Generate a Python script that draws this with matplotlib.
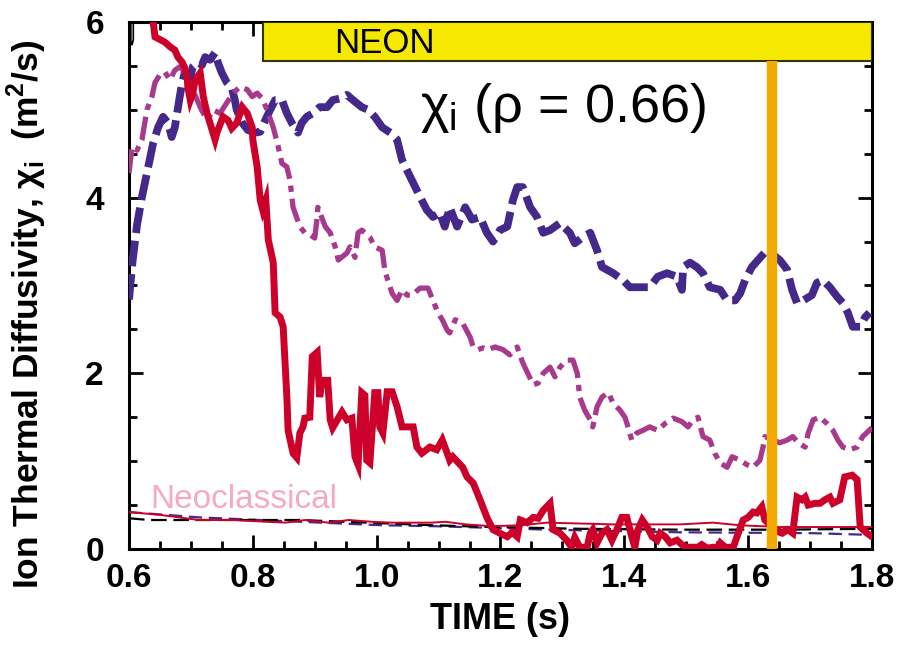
import matplotlib
matplotlib.use("Agg")
import matplotlib.pyplot as plt
from matplotlib.patches import Rectangle
from matplotlib.ticker import MultipleLocator, FormatStrFormatter

plt.rcParams['font.family'] = ['Liberation Sans Narrow', 'Liberation Sans', 'DejaVu Sans']
plt.rcParams['mathtext.fontset'] = 'custom'
plt.rcParams['mathtext.rm'] = 'Liberation Sans'
plt.rcParams['mathtext.bf'] = 'Liberation Sans:bold'

# ---- data (time in s, chi_i in m^2/s) ----
red_t = [0.634, 0.639, 0.642, 0.650, 0.658, 0.666, 0.674, 0.679, 0.686, 0.690, 0.694, 0.695, 0.699, 0.703,
         0.707, 0.715, 0.720, 0.726, 0.739, 0.742, 0.752, 0.760, 0.766, 0.774, 0.783, 0.791, 0.799, 0.800,
         0.807, 0.812, 0.816, 0.821, 0.825, 0.833, 0.836, 0.844, 0.849, 0.855, 0.857, 0.865, 0.871, 0.876,
         0.881, 0.884, 0.892, 0.896, 0.904, 0.908, 0.912, 0.921, 0.925, 0.929, 0.944, 0.952, 0.960, 0.965,
         0.970, 0.976, 0.981, 0.984, 0.989, 0.997, 1.002, 1.005, 1.010, 1.017, 1.025, 1.033, 1.041, 1.049,
         1.059, 1.065, 1.073, 1.086, 1.097, 1.106, 1.114, 1.118, 1.123, 1.131, 1.139, 1.146, 1.156, 1.167,
         1.178, 1.188, 1.199, 1.211, 1.219, 1.227, 1.232, 1.243, 1.253, 1.261, 1.269, 1.280, 1.285, 1.296,
         1.307, 1.315, 1.320, 1.328, 1.340, 1.345, 1.349, 1.356, 1.364, 1.372, 1.380, 1.388, 1.396, 1.404,
         1.412, 1.417, 1.422, 1.429, 1.437, 1.445, 1.453, 1.458, 1.466, 1.474, 1.485, 1.493, 1.501, 1.511,
         1.519, 1.525, 1.534, 1.543, 1.551, 1.555, 1.563, 1.576, 1.584, 1.592, 1.600, 1.608, 1.614, 1.622,
         1.627, 1.639, 1.647, 1.651, 1.655, 1.664, 1.672, 1.679, 1.687, 1.692, 1.697, 1.708, 1.716, 1.724,
         1.732, 1.737, 1.748, 1.756, 1.768, 1.776, 1.781, 1.792, 1.800]
red_chi = [6.30, 6.00, 5.83, 5.80, 5.77, 5.72, 5.68, 5.60, 5.54, 5.48, 5.37, 5.26, 5.11, 5.19,
           5.34, 5.42, 5.15, 4.96, 4.66, 4.74, 4.92, 4.88, 4.79, 4.85, 5.03, 4.96, 4.80, 4.66,
           4.35, 3.97, 3.86, 3.97, 3.52, 3.26, 2.69, 2.64, 2.53, 1.73, 1.35, 1.09, 1.04, 1.32,
           1.39, 1.49, 1.50, 2.19, 2.24, 1.73, 1.92, 1.92, 1.47, 1.38, 1.56, 1.47, 1.49, 1.05,
           0.96, 1.78, 1.75, 1.01, 0.98, 1.78, 1.78, 1.39, 1.32, 1.79, 1.79, 1.62, 1.39, 1.39,
           1.39, 1.16, 1.09, 1.16, 1.13, 1.24, 1.09, 1.01, 1.05, 0.99, 0.93, 0.82, 0.75, 0.56,
           0.36, 0.22, 0.18, 0.14, 0.19, 0.14, 0.33, 0.30, 0.36, 0.35, 0.44, 0.52, 0.22, 0.18,
           0.10, 0.02, 0.13, 0.02, 0.02, 0.18, 0.22, 0.07, 0.18, 0.22, 0.10, 0.22, 0.36, 0.36,
           0.14, 0.02, 0.22, 0.33, 0.25, 0.14, 0.10, 0.18, 0.14, 0.07, 0.10, 0.05, 0.02, 0.02,
           0.02, 0.05, 0.01, 0.02, 0.02, 0.07, 0.02, 0.02, 0.18, 0.33, 0.36, 0.42, 0.41, 0.48,
           0.33, 0.25, 0.22, 0.19, 0.18, 0.22, 0.18, 0.59, 0.56, 0.59, 0.50, 0.52, 0.52, 0.56,
           0.59, 0.52, 0.56, 0.82, 0.84, 0.79, 0.25, 0.18, 0.14]

purple_t = [0.600, 0.605, 0.613, 0.621, 0.629, 0.637, 0.642, 0.650, 0.658, 0.666, 0.674, 0.682, 0.694,
            0.703, 0.715, 0.726, 0.736, 0.747, 0.758, 0.768, 0.779, 0.791, 0.799, 0.807, 0.815, 0.823,
            0.833, 0.841, 0.847, 0.855, 0.860, 0.865, 0.876, 0.884, 0.892, 0.900, 0.904, 0.905, 0.917,
            0.925, 0.933, 0.938, 0.952, 0.957, 0.965, 0.970, 0.976, 0.989, 0.997, 1.009, 1.013, 1.018,
            1.025, 1.033, 1.041, 1.049, 1.057, 1.070, 1.083, 1.091, 1.099, 1.106, 1.114, 1.118, 1.127,
            1.139, 1.151, 1.156, 1.164, 1.172, 1.180, 1.191, 1.204, 1.215, 1.227, 1.236, 1.244, 1.253,
            1.261, 1.269, 1.280, 1.288, 1.296, 1.307, 1.317, 1.324, 1.328, 1.336, 1.345, 1.349, 1.356,
            1.364, 1.374, 1.382, 1.393, 1.401, 1.406, 1.412, 1.420, 1.430, 1.441, 1.454, 1.466, 1.479,
            1.493, 1.503, 1.511, 1.519, 1.527, 1.538, 1.546, 1.555, 1.566, 1.574, 1.587, 1.598, 1.608,
            1.619, 1.624, 1.627, 1.640, 1.651, 1.663, 1.672, 1.681, 1.692, 1.697, 1.705, 1.716, 1.727,
            1.737, 1.745, 1.753, 1.764, 1.776, 1.785, 1.800]
purple_chi = [4.28, 4.58, 4.54, 4.66, 5.00, 5.15, 5.31, 5.40, 5.43, 5.34, 5.45, 5.49, 5.40,
              5.23, 5.03, 4.88, 5.00, 4.96, 5.08, 5.19, 5.26, 5.23, 5.15, 5.19, 5.13, 5.00,
              4.80, 4.58, 4.39, 4.35, 4.20, 3.89, 3.67, 3.60, 3.58, 3.54, 3.78, 3.89, 3.67,
              3.60, 3.44, 3.29, 3.37, 3.44, 3.32, 3.60, 3.63, 3.55, 3.44, 3.40, 3.18, 3.06,
              2.91, 2.83, 2.95, 2.89, 2.89, 2.97, 2.97, 2.83, 2.69, 2.61, 2.49, 2.46, 2.61,
              2.57, 2.41, 2.30, 2.27, 2.29, 2.27, 2.30, 2.27, 2.21, 2.30, 2.12, 2.00, 1.87,
              1.89, 2.00, 2.07, 1.96, 2.07, 2.15, 2.15, 2.00, 1.73, 1.58, 1.47, 1.39, 1.62,
              1.73, 1.78, 1.66, 1.58, 1.50, 1.39, 1.24, 1.32, 1.35, 1.39, 1.35, 1.43, 1.49,
              1.45, 1.39, 1.47, 1.50, 1.28, 1.24, 1.09, 0.98, 0.93, 1.05, 1.01, 0.96, 0.93,
              1.01, 1.16, 1.28, 1.24, 1.21, 1.24, 1.28, 1.21, 1.16, 1.32, 1.47, 1.50, 1.43,
              1.35, 1.24, 1.16, 1.13, 1.16, 1.28, 1.38]

indigo_t = [0.600, 0.606, 0.613, 0.621, 0.629, 0.639, 0.647, 0.655, 0.663, 0.669, 0.674, 0.682, 0.686,
            0.690, 0.699, 0.703, 0.711, 0.718, 0.723, 0.731, 0.739, 0.744, 0.750, 0.758, 0.766, 0.771,
            0.774, 0.783, 0.792, 0.804, 0.812, 0.820, 0.828, 0.836, 0.847, 0.855, 0.863, 0.873, 0.879,
            0.887, 0.897, 0.908, 0.920, 0.929, 0.941, 0.952, 0.962, 0.976, 0.986, 0.997, 1.009, 1.022,
            1.033, 1.041, 1.054, 1.070, 1.081, 1.091, 1.102, 1.110, 1.118, 1.130, 1.143, 1.154, 1.167,
            1.178, 1.188, 1.199, 1.211, 1.220, 1.227, 1.236, 1.248, 1.259, 1.269, 1.280, 1.296, 1.312,
            1.320, 1.333, 1.345, 1.356, 1.364, 1.382, 1.398, 1.409, 1.425, 1.441, 1.454, 1.469, 1.485,
            1.493, 1.495, 1.506, 1.517, 1.527, 1.538, 1.555, 1.566, 1.579, 1.587, 1.595, 1.606, 1.616,
            1.630, 1.640, 1.651, 1.663, 1.671, 1.679, 1.689, 1.703, 1.711, 1.721, 1.732, 1.744, 1.753,
            1.761, 1.769, 1.781, 1.789, 1.796]
indigo_chi = [2.84, 3.29, 3.69, 4.01, 4.28, 4.62, 4.80, 4.92, 4.85, 4.69, 4.80, 5.15, 5.31,
              5.42, 5.37, 5.49, 5.54, 5.51, 5.60, 5.57, 5.65, 5.53, 5.42, 5.31, 5.25, 5.11,
              5.00, 4.85, 4.77, 4.74, 4.75, 4.88, 5.00, 5.11, 5.11, 4.96, 4.85, 4.74, 4.85,
              4.92, 4.96, 5.03, 5.03, 5.11, 5.13, 5.17, 5.11, 5.03, 5.00, 4.92, 4.80, 4.74,
              4.66, 4.43, 4.24, 4.01, 3.86, 3.78, 3.83, 3.67, 3.89, 3.67, 3.89, 3.75, 3.78,
              3.60, 3.50, 3.63, 3.67, 3.97, 4.12, 4.12, 3.89, 3.78, 3.60, 3.63, 3.71, 3.60,
              3.48, 3.55, 3.60, 3.40, 3.21, 3.14, 3.06, 2.98, 2.98, 2.98, 3.10, 3.14, 3.10,
              2.95, 3.21, 3.26, 3.21, 3.14, 2.98, 2.95, 2.83, 2.83, 2.91, 3.06, 3.21, 3.29,
              3.40, 3.35, 3.29, 3.18, 2.95, 2.80, 2.83, 2.89, 3.03, 3.06, 2.98, 2.87, 2.80,
              2.69, 2.53, 2.53, 2.64, 2.69]

neo_red_t = [0.600, 0.648, 0.713, 0.766, 0.821, 0.853, 0.885, 0.922, 0.955, 0.992, 1.024, 1.089, 1.111,
             1.144, 1.186, 1.232, 1.275, 1.382, 1.490, 1.543, 1.587, 1.651, 1.705, 1.760, 1.800]
neo_red_chi = [0.42, 0.39, 0.33, 0.33, 0.31, 0.30, 0.33, 0.30, 0.33, 0.31, 0.30, 0.30, 0.31,
               0.28, 0.26, 0.27, 0.30, 0.28, 0.28, 0.30, 0.27, 0.25, 0.25, 0.25, 0.25]
neo_black_t = [0.600, 0.632, 0.821, 0.876, 0.984, 1.091, 1.188, 1.328, 1.490, 1.651, 1.800]
neo_black_chi = [0.35, 0.33, 0.33, 0.33, 0.30, 0.27, 0.25, 0.23, 0.22, 0.22, 0.23]
neo_indigo_t = [0.600, 0.713, 0.876, 1.010, 1.091, 1.188, 1.275, 1.490, 1.705, 1.800]
neo_indigo_chi = [0.42, 0.36, 0.31, 0.27, 0.26, 0.24, 0.22, 0.19, 0.18, 0.16]

black_hook_t = [0.603, 0.603, 0.605, 0.607, 0.607]
black_hook_chi = [6.30, 5.78, 5.74, 5.80, 6.30]

neon_start, neon_end = 0.816, 1.80
neon_bottom = 5.56
marker_time = 1.638

x_ticks = [0.6, 0.8, 1.0, 1.2, 1.4, 1.6, 1.8]
y_ticks = [0, 2, 4, 6]

RED = '#CC0029'
PURPLE = '#A83A8E'
INDIGO = '#45298A'
ORANGE = '#F2A900'
YELLOW = '#F5E900'
PINK = '#F6A9C3'

fig = plt.figure(figsize=(8.97, 6.5), dpi=100)
ax = fig.add_axes([0.1438, 0.1554, 0.8283, 0.8108])

# neoclassical (thin)
ax.plot(neo_indigo_t, neo_indigo_chi, color=INDIGO, lw=1.6, ls=(0, (6, 3)), zorder=3)
ax.plot(neo_black_t, neo_black_chi, color='black', lw=1.6, ls=(0, (7, 3)), zorder=3)
ax.plot(neo_red_t, neo_red_chi, color=RED, lw=1.4, zorder=3)
ax.plot(black_hook_t, black_hook_chi, color='black', lw=1.2, zorder=3)

# main chi_i traces
ax.plot(indigo_t, indigo_chi, color=INDIGO, lw=5.6, ls=(0, (3.3, 1.0)), zorder=4)
ax.plot(purple_t, purple_chi, color=PURPLE, lw=3.8, ls=(0, (4.5, 1.3, 1.2, 1.3)), zorder=4)
ax.plot(red_t, red_chi, color=RED, lw=5.0, solid_joinstyle='miter', zorder=5)

# NEON bar and marker
ax.add_patch(Rectangle((neon_start, neon_bottom), neon_end - neon_start, 6.0 - neon_bottom,
                       facecolor=YELLOW, edgecolor='#333300', lw=1.5, zorder=6))
ax.text(1.013, 5.76, 'NEON', fontsize=25, family='Liberation Sans',
        ha='center', va='center', zorder=7)
ax.plot([marker_time, marker_time], [0, neon_bottom], color=ORANGE, lw=7.5, zorder=6,
        solid_capstyle='butt')

ax.text(1.07, 4.86, r'χ$_\mathrm{i}$ (ρ = 0.66)', fontsize=39, family='Liberation Sans',
        ha='left', va='baseline', zorder=7)
ax.text(0.634, 0.47, 'Neoclassical', fontsize=24, family='Liberation Sans', color=PINK,
        ha='left', va='baseline', zorder=7)

ax.set_xlim(0.6, 1.8)
ax.set_ylim(0, 6)
ax.set_xticks(x_ticks)
ax.set_yticks(y_ticks)
ax.xaxis.set_major_formatter(FormatStrFormatter('%.1f'))
ax.xaxis.set_minor_locator(MultipleLocator(0.05))
ax.yaxis.set_minor_locator(MultipleLocator(0.5))
ax.tick_params(which='both', direction='in', top=True, right=True, width=2)
ax.tick_params(which='major', length=10, labelsize=24)
ax.tick_params(axis='x', which='major', pad=10)
ax.tick_params(axis='y', which='major', pad=18)
ax.tick_params(which='minor', length=6)
for lab in ax.get_xticklabels() + ax.get_yticklabels():
    lab.set_fontweight('bold')
for s in ax.spines.values():
    s.set_linewidth(2.2)

ax.set_xlabel('TIME (s)', fontsize=26, fontweight='bold', labelpad=6)
ax.set_ylabel(r'Ion Thermal Diffusivity, χ$_\mathbf{i}$  (m$^\mathbf{2}$/s)', fontsize=25.5,
              fontweight='bold')
ax.yaxis.set_label_coords(-0.108, 0.445)

fig.savefig('out.png', dpi=100)
